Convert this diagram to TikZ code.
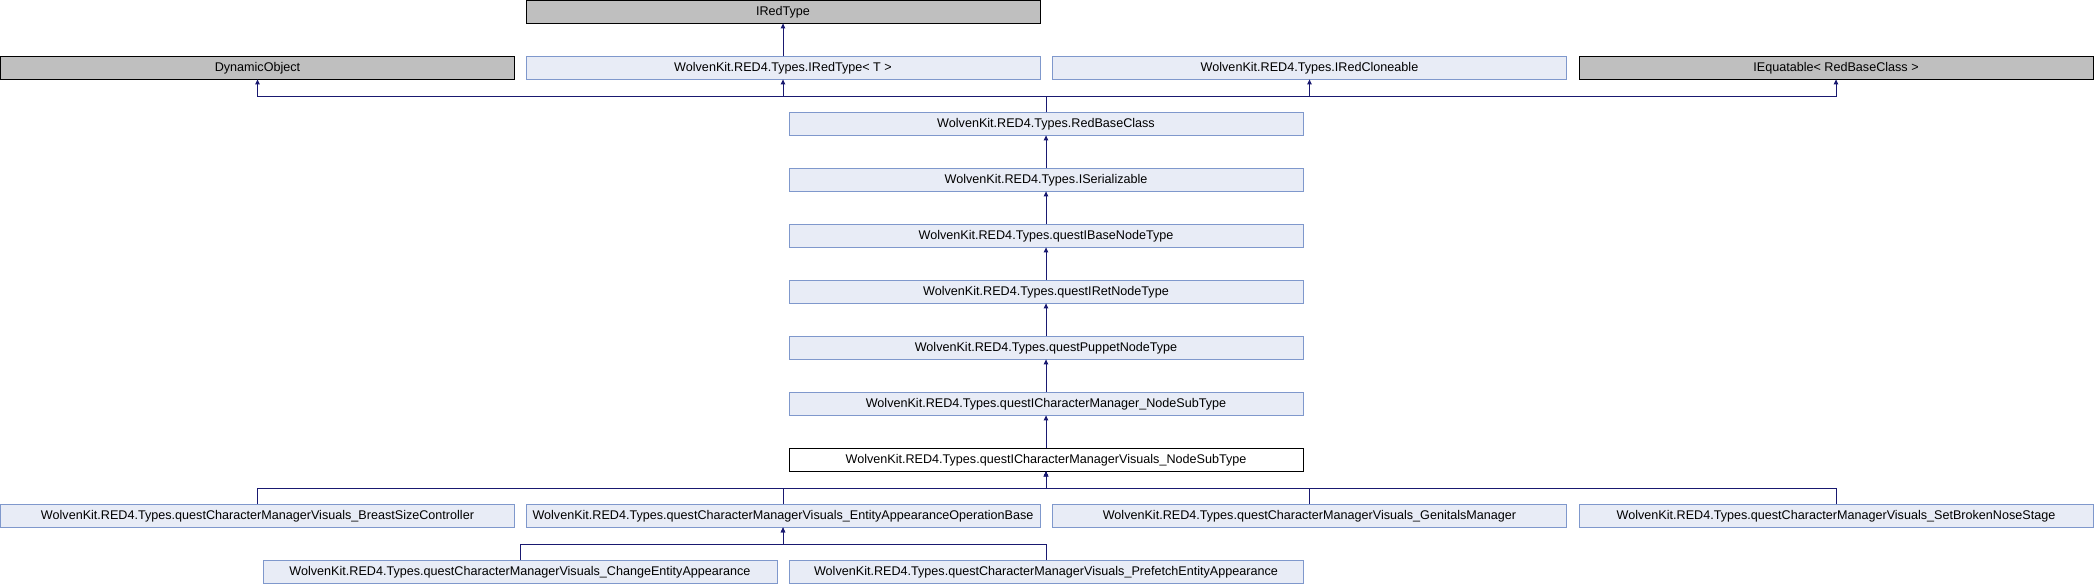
\documentclass[tikz,border=0pt]{standalone}
\usepackage{fontspec}
\setmainfont{Liberation Sans}
\usetikzlibrary{arrows.meta}
\definecolor{nodefill}{HTML}{E8ECF6}
\definecolor{nodeline}{HTML}{7F98CC}
\definecolor{grayfill}{HTML}{BFBFBF}
\definecolor{edgecol}{HTML}{191970}
\tikzset{
  cls/.style={rectangle, minimum width=514pt, minimum height=22.5pt, inner sep=0pt,
    font=\fontsize{12.6}{14}\selectfont, line width=0.8pt},
  bluebox/.style={cls, draw=nodeline, fill=nodefill},
  graybox/.style={cls, draw=black, fill=grayfill},
  curbox/.style={cls, draw=black, fill=white},
  arr/.style={draw=edgecol, line width=0.9pt, -{Triangle[length=5pt,width=4.5pt]}},
}
\begin{document}
\begin{tikzpicture}[x=1pt,y=-1pt]
\useasboundingbox (0,0) rectangle (2094,584);
% row 0
\node[graybox] (ired) at (783,11.75) {IRedType};
% row 1
\node[graybox] (dyn) at (257.5,67.75) {DynamicObject};
\node[bluebox] (iredT) at (783,67.75) {WolvenKit.RED4.Types.IRedType< T >};
\node[bluebox] (iclone) at (1309.5,67.75) {WolvenKit.RED4.Types.IRedCloneable};
\node[graybox] (ieq) at (1836,67.75) {IEquatable< RedBaseClass >};
% chain
\node[bluebox] (rbc) at (1046,123.75) {WolvenKit.RED4.Types.RedBaseClass};
\node[bluebox] (iser) at (1046,179.75) {WolvenKit.RED4.Types.ISerializable};
\node[bluebox] (ibase) at (1046,235.75) {WolvenKit.RED4.Types.questIBaseNodeType};
\node[bluebox] (iret) at (1046,291.75) {WolvenKit.RED4.Types.questIRetNodeType};
\node[bluebox] (puppet) at (1046,347.75) {WolvenKit.RED4.Types.questPuppetNodeType};
\node[bluebox] (icm) at (1046,403.75) {WolvenKit.RED4.Types.questICharacterManager\_NodeSubType};
\node[curbox] (vis) at (1046,459.75) {WolvenKit.RED4.Types.questICharacterManagerVisuals\_NodeSubType};
% row 9
\node[bluebox] (breast) at (257.5,515.75) {WolvenKit.RED4.Types.questCharacterManagerVisuals\_BreastSizeController};
\node[bluebox] (eaob) at (783,515.75) {WolvenKit.RED4.Types.questCharacterManagerVisuals\_EntityAppearanceOperationBase};
\node[bluebox] (genit) at (1309.5,515.75) {WolvenKit.RED4.Types.questCharacterManagerVisuals\_GenitalsManager};
\node[bluebox] (nose) at (1836,515.75) {WolvenKit.RED4.Types.questCharacterManagerVisuals\_SetBrokenNoseStage};
% row 10
\node[bluebox] (change) at (520,571.75) {WolvenKit.RED4.Types.questCharacterManagerVisuals\_ChangeEntityAppearance};
\node[bluebox] (prefetch) at (1046,571.75) {WolvenKit.RED4.Types.questCharacterManagerVisuals\_PrefetchEntityAppearance};
% bus coordinates
\coordinate (bus1) at (1046,96.7);
\coordinate (bus2) at (1046,488);
\coordinate (bus3) at (783,544);
% edges
\draw[arr] (iredT.north) -- (ired.south);
\draw[arr] (rbc.north) -- (bus1) -| (dyn.south);
\draw[arr] (rbc.north) -- (bus1) -| (iredT.south);
\draw[arr] (rbc.north) -- (bus1) -| (iclone.south);
\draw[arr] (rbc.north) -- (bus1) -| (ieq.south);
\draw[arr] (iser.north) -- (rbc.south);
\draw[arr] (ibase.north) -- (iser.south);
\draw[arr] (iret.north) -- (ibase.south);
\draw[arr] (puppet.north) -- (iret.south);
\draw[arr] (icm.north) -- (puppet.south);
\draw[arr] (vis.north) -- (icm.south);
\draw[arr] (breast.north) |- (bus2) -- (vis.south);
\draw[arr] (eaob.north) |- (bus2) -- (vis.south);
\draw[arr] (genit.north) |- (bus2) -- (vis.south);
\draw[arr] (nose.north) |- (bus2) -- (vis.south);
\draw[arr] (change.north) |- (bus3) -- (eaob.south);
\draw[arr] (prefetch.north) |- (bus3) -- (eaob.south);
\end{tikzpicture}
\end{document}
